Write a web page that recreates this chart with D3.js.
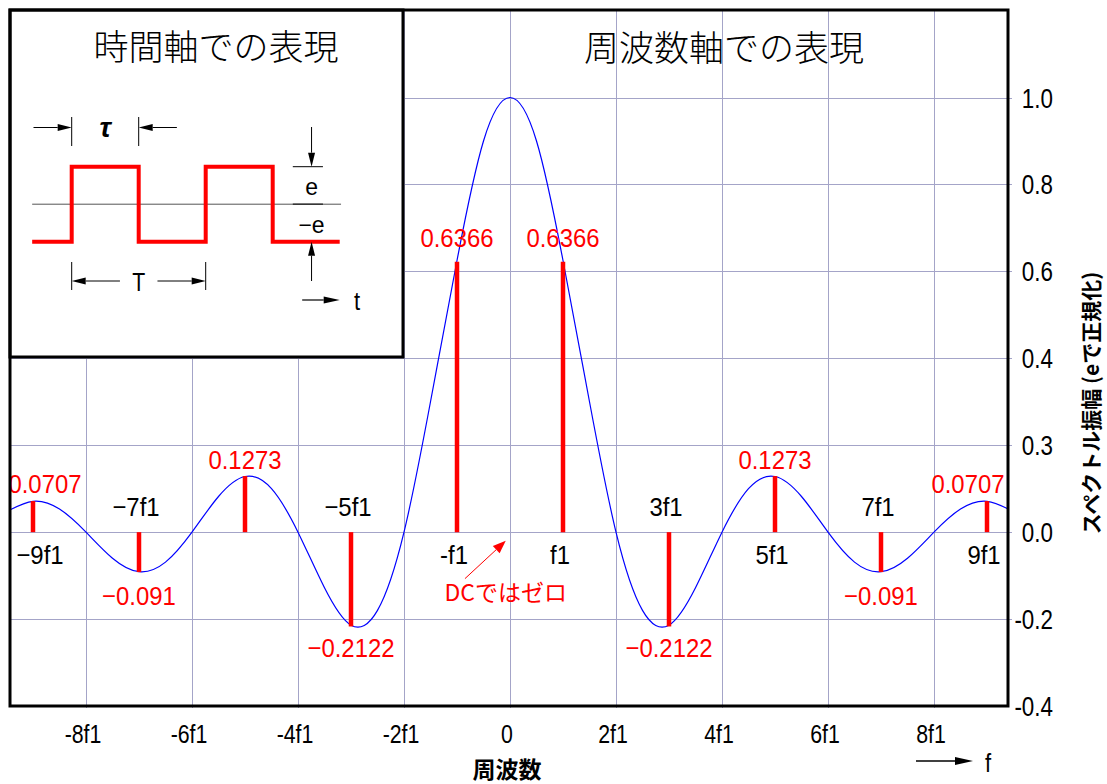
<!DOCTYPE html>
<html>
<head>
<meta charset="utf-8">
<script src="https://cdn.jsdelivr.net/npm/d3@7"></script>
<style>
  body { margin: 0; background: #fff; }
  text { font-family: "Liberation Sans", Arial, sans-serif; }
  .jp { font-family: "Noto Sans CJK JP", sans-serif; }
</style>
</head>
<body>
<script>
"use strict";

// envelope curve, every half f1
var curveF = [-9.5, -9, -8.5, -8, -7.5, -7, -6.5, -6, -5.5, -5, -4.5, -4, -3.5, -3, -2.5, -2, -1.5, -1, -0.5,
              0, 0.5, 1, 1.5, 2, 2.5, 3, 3.5, 4, 4.5, 5, 5.5, 6, 6.5, 7, 7.5, 8, 8.5, 9, 9.5];
var curveV = [0.047, 0.071, 0.053, 0, -0.06, -0.091, -0.069, 0, 0.082, 0.128, 0.10, 0, -0.128, -0.214, -0.18, 0, 0.30, 0.625, 0.90,
              1.0, 0.90, 0.625, 0.30, 0, -0.18, -0.214, -0.128, 0, 0.10, 0.128, 0.082, 0, -0.069, -0.091, -0.06, 0, 0.053, 0.071, 0.047];

// spectral lines (odd harmonics)
var lineF = [-9, -7, -5, -3, -1, 1, 3, 5, 7, 9];
var lineV = [0.0715, -0.092, 0.129, -0.217, 0.622, 0.622, -0.217, 0.129, -0.092, 0.0715];
var valueLabels = ["0.0707", "\u22120.091", "0.1273", "\u22120.2122", "0.6366", "0.6366", "\u22120.2122", "0.1273", "\u22120.091", "0.0707"];
var labelV = [0.0707, -0.091, 0.1273, -0.2122, 0.6366, 0.6366, -0.2122, 0.1273, -0.091, 0.0707];
var harmLabels = ["\u22129f1", "\u22127f1", "", "\u22125f1", "-f1", "f1", "3f1", "5f1", "7f1", "9f1"];

// axes
var xTicks = [-8, -6, -4, -2, 0, 2, 4, 6, 8];
var xTickLabels = ["-8f1", "-6f1", "-4f1", "-2f1", "0", "2f1", "4f1", "6f1", "8f1"];
var yTicks = [1.0, 0.8, 0.6, 0.4, 0.2, 0.0, -0.2, -0.4];
var yTickLabels = ["1.0", "0.8", "0.6", "0.4", "0.3", "0.0", "-0.2", "-0.4"];

// square wave in the inset (time in units of tau, level in units of e)
var waveT = [-0.59, 0, 1, 2, 3, 4.0];
var waveL = [-1, 1, -1, 1, -1, -1];

var W = 1107, H = 784;
var x0 = 10, x1 = 1008, y0 = 10, y1 = 706;

var x = d3.scaleLinear().domain([-8, 8]).range([86, 934]);
var y = d3.scaleLinear().domain([-0.4, 1.0]).range([706, 97.5]);

var svg = d3.select("body").append("svg")
    .attr("width", W)
    .attr("height", H);

svg.append("defs").append("clipPath")
    .attr("id", "clip")
  .append("rect")
    .attr("x", x0).attr("y", y0)
    .attr("width", x1 - x0).attr("height", y1 - y0);

function arrow(g, ax, ay, bx, by, color, w, len, half) {
  var dx = bx - ax, dy = by - ay, d = Math.sqrt(dx * dx + dy * dy);
  var ux = dx / d, uy = dy / d;
  var cx = bx - ux * len, cy = by - uy * len;
  g.append("line")
      .attr("x1", ax).attr("y1", ay).attr("x2", cx).attr("y2", cy)
      .attr("stroke", color).attr("stroke-width", w);
  g.append("path")
      .attr("d", "M" + bx + "," + by +
                 "L" + (cx - uy * half) + "," + (cy + ux * half) +
                 "L" + (cx + uy * half) + "," + (cy - ux * half) + "Z")
      .attr("fill", color);
}

// gridlines
var grid = svg.append("g").attr("stroke", "#a4a4c8").attr("stroke-width", 1);
grid.selectAll(".h")
    .data(yTicks.filter(function(d) { return d > -0.4; }))
  .enter().append("line")
    .attr("x1", x0).attr("x2", x1 + 4)
    .attr("y1", function(d) { return Math.round(y(d)) + 0.5; })
    .attr("y2", function(d) { return Math.round(y(d)) + 0.5; });
grid.selectAll(".v")
    .data(xTicks)
  .enter().append("line")
    .attr("y1", y0).attr("y2", y1 + 2)
    .attr("x1", function(d) { return Math.round(x(d)) + 0.5; })
    .attr("x2", function(d) { return Math.round(x(d)) + 0.5; });

var plot = svg.append("g").attr("clip-path", "url(#clip)");

// envelope
var line = d3.line()
    .x(function(d, i) { return x(curveF[i]); })
    .y(function(d) { return y(d); })
    .curve(d3.curveNatural);
plot.append("path")
    .datum(curveV)
    .attr("d", line)
    .attr("fill", "none")
    .attr("stroke", "#0000ff")
    .attr("stroke-width", 1.2);

// stems
plot.selectAll(".stem")
    .data(lineV)
  .enter().append("line")
    .attr("x1", function(d, i) { return x(lineF[i]); })
    .attr("x2", function(d, i) { return x(lineF[i]); })
    .attr("y1", y(0))
    .attr("y2", function(d) { return y(d); })
    .attr("stroke", "#ff0000")
    .attr("stroke-width", 4.5);

// value labels
function labelX(i) {
  return Math.max(x0 + 35, Math.min(x1 - 40, x(lineF[i])));
}
plot.selectAll(".val")
    .data(valueLabels)
  .enter().append("text")
    .attr("transform", function(d, i) {
      var ty = labelV[i] > 0 ? y(labelV[i]) - 8 : y(labelV[i]) + 33;
      return "translate(" + labelX(i) + "," + ty + ") scale(0.92,1)";
    })
    .attr("text-anchor", "middle")
    .attr("font-size", 26)
    .attr("fill", "#ff0000")
    .text(function(d) { return d; });

plot.selectAll(".harm")
    .data(harmLabels)
  .enter().append("text")
    .attr("transform", function(d, i) {
      var tx0 = x(lineF[i]) + (lineF[i] === -9 ? 7 : -3);
      var ty = lineV[i] > 0 ? y(0) + 32 : y(0) - 16;
      return "translate(" + tx0 + "," + ty + ") scale(0.92,1)";
    })
    .attr("text-anchor", "middle")
    .attr("font-size", 26)
    .attr("fill", "#000")
    .text(function(d) { return d; });

// DC annotation
arrow(svg.append("g"), x(-0.85), y(-0.107), x(-0.08), y(-0.02), "#ff0000", 1, 13, 5);
svg.append("text")
    .attr("class", "jp")
    .attr("x", x(-0.08)).attr("y", 601)
    .attr("text-anchor", "middle")
    .attr("font-size", 23)
    .attr("fill", "#ff0000")
    .text("DCではゼロ");

// main title
svg.append("text")
    .attr("class", "jp")
    .attr("x", 724).attr("y", 61)
    .attr("text-anchor", "middle")
    .attr("font-size", 35)
    .attr("font-weight", 300)
    .text("周波数軸での表現");

// inset: time domain
var ix1 = 403, iy1 = 357;
var inset = svg.append("g");
inset.append("rect")
    .attr("x", x0).attr("y", y0)
    .attr("width", ix1 - x0).attr("height", iy1 - y0)
    .attr("fill", "#fff");

inset.append("text")
    .attr("class", "jp")
    .attr("x", 216).attr("y", 60)
    .attr("text-anchor", "middle")
    .attr("font-size", 35)
    .attr("font-weight", 300)
    .text("時間軸での表現");

var tx = d3.scaleLinear().domain([0, 1]).range([71.7, 138.7]);
var ly = d3.scaleLinear().domain([-1, 1]).range([241.7, 166.7]);

inset.append("line")
    .attr("x1", tx(-0.59)).attr("x2", tx(4.02))
    .attr("y1", ly(0)).attr("y2", ly(0))
    .attr("stroke", "#555").attr("stroke-width", 1);
inset.append("line")
    .attr("x1", tx(3.3)).attr("x2", tx(3.75))
    .attr("y1", ly(0)).attr("y2", ly(0))
    .attr("stroke", "#333").attr("stroke-width", 1.5);

var wave = d3.line()
    .x(function(d, i) { return tx(waveT[i]); })
    .y(function(d) { return ly(d); })
    .curve(d3.curveStepAfter);
inset.append("path")
    .datum(waveL)
    .attr("d", wave)
    .attr("fill", "none")
    .attr("stroke", "#ff0000")
    .attr("stroke-width", 4);

var ann = inset.append("g");
// tau dimension
var tauY = 127.5;
[0, 1].forEach(function(t) {
  ann.append("line")
      .attr("x1", tx(t)).attr("x2", tx(t))
      .attr("y1", 117).attr("y2", 146)
      .attr("stroke", "#000").attr("stroke-width", 1);
});
arrow(ann, tx(-0.57), tauY, tx(0), tauY, "#000", 1, 14, 3.5);
arrow(ann, tx(1.57), tauY, tx(1), tauY, "#000", 1, 14, 3.5);
ann.append("text")
    .attr("x", tx(0.5)).attr("y", 137)
    .attr("text-anchor", "middle")
    .attr("font-family", "DejaVu Serif")
    .attr("font-style", "italic")
    .attr("font-weight", "bold")
    .attr("font-size", 28)
    .text("τ");

// T dimension
var periodY = 281;
[0, 2].forEach(function(t) {
  ann.append("line")
      .attr("x1", tx(t)).attr("x2", tx(t))
      .attr("y1", 262).attr("y2", 290)
      .attr("stroke", "#000").attr("stroke-width", 1);
});
arrow(ann, tx(0.72), periodY, tx(0), periodY, "#000", 1, 14, 3.5);
arrow(ann, tx(1.28), periodY, tx(2), periodY, "#000", 1, 14, 3.5);
ann.append("text")
    .attr("transform", "translate(" + tx(1) + ",291) scale(0.85,1)")
    .attr("text-anchor", "middle")
    .attr("font-size", 25)
    .text("T");

// e dimension
var ex = tx(3.58);
ann.append("line")
    .attr("x1", tx(3.3)).attr("x2", tx(3.75))
    .attr("y1", ly(1)).attr("y2", ly(1))
    .attr("stroke", "#000").attr("stroke-width", 1);
arrow(ann, ex, 127, ex, ly(1), "#000", 1, 14, 3.5);
arrow(ann, ex, 281, ex, ly(-1), "#000", 1, 14, 3.5);
ann.append("text")
    .attr("x", ex).attr("y", 195)
    .attr("text-anchor", "middle")
    .attr("font-size", 23)
    .text("e");
ann.append("text")
    .attr("x", ex).attr("y", 233)
    .attr("text-anchor", "middle")
    .attr("font-size", 23)
    .text("\u2212e");

// time arrow
arrow(ann, tx(3.44), 300, tx(4.0), 300, "#000", 1.2, 16, 3.5);
ann.append("text")
    .attr("transform", "translate(" + tx(4.26) + ",310) scale(0.85,1)")
    .attr("text-anchor", "middle")
    .attr("font-size", 26)
    .text("t");

inset.append("rect")
    .attr("x", x0).attr("y", y0)
    .attr("width", ix1 - x0).attr("height", iy1 - y0)
    .attr("fill", "none")
    .attr("stroke", "#000")
    .attr("stroke-width", 3);

// frame
svg.append("rect")
    .attr("x", x0).attr("y", y0)
    .attr("width", x1 - x0).attr("height", y1 - y0)
    .attr("fill", "none")
    .attr("stroke", "#000")
    .attr("stroke-width", 3);

// y tick labels (right)
svg.selectAll(".yt")
    .data(yTicks)
  .enter().append("text")
    .attr("transform", function(d) { return "translate(1053," + (y(d) + 10) + ") scale(0.8,1)"; })
    .attr("text-anchor", "end")
    .attr("font-size", 28)
    .text(function(d, i) { return yTickLabels[i]; });

// x tick labels (bottom)
svg.selectAll(".xt")
    .data(xTicks)
  .enter().append("text")
    .attr("transform", function(d) { return "translate(" + (x(d) - 3) + ",743) scale(0.82,1)"; })
    .attr("text-anchor", "middle")
    .attr("font-size", 26)
    .text(function(d, i) { return xTickLabels[i]; });

// axis titles
svg.append("text")
    .attr("class", "jp")
    .attr("x", 507).attr("y", 778)
    .attr("text-anchor", "middle")
    .attr("font-size", 23)
    .attr("font-weight", "bold")
    .text("周波数");

arrow(svg.append("g"), 916, 761, 973, 761, "#000", 1.5, 18, 4);
svg.append("text")
    .attr("transform", "translate(988,772) scale(0.85,1)")
    .attr("text-anchor", "middle")
    .attr("font-size", 26)
    .text("f");

svg.append("text")
    .attr("class", "jp")
    .attr("transform", "translate(1099,403) rotate(-90)")
    .attr("text-anchor", "middle")
    .attr("font-size", 21)
    .attr("font-weight", "bold")
    .text("スペクトル振幅 (eで正規化)");
</script>
</body>
</html>
